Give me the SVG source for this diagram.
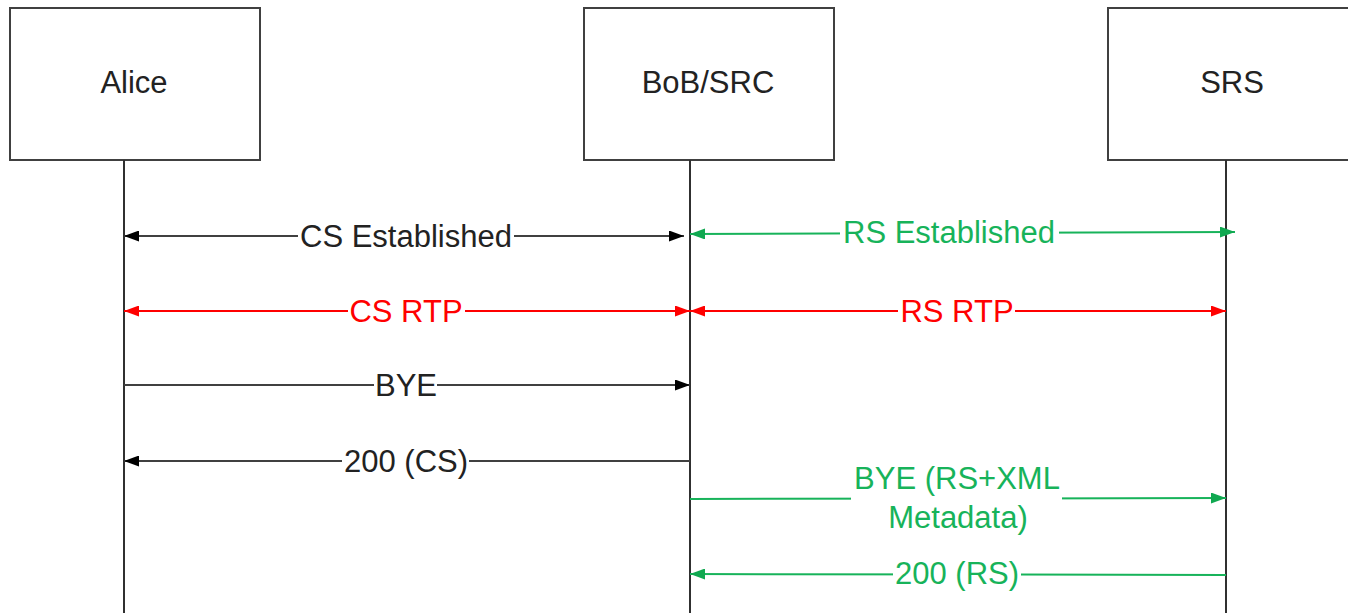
<svg xmlns="http://www.w3.org/2000/svg" width="1348" height="613" viewBox="0 0 1348 613">
<defs>
<style>
.box{fill:#fff;stroke:#404040;stroke-width:2}
.life{stroke:#303030;stroke-width:2}
.t{font-family:"Liberation Sans",Arial,sans-serif;font-size:31px;text-anchor:middle}
.k{stroke:#404040;stroke-width:2;fill:none}
.g{stroke:#17b35a;stroke-width:2;fill:none}
.r{stroke:#ff0000;stroke-width:2;fill:none}
.bg{fill:#fff}
</style>
<marker id="ak" viewBox="0 0 15 11" refX="15" refY="5.5" markerWidth="15" markerHeight="11" markerUnits="userSpaceOnUse" orient="auto-start-reverse"><path d="M0,0L15,5.5L0,11z" fill="#000"/></marker>
<marker id="ag" viewBox="0 0 15 11" refX="15" refY="5.5" markerWidth="15" markerHeight="11" markerUnits="userSpaceOnUse" orient="auto-start-reverse"><path d="M0,0L15,5.5L0,11z" fill="#10a850"/></marker>
<marker id="ar" viewBox="0 0 15 11" refX="15" refY="5.5" markerWidth="15" markerHeight="11" markerUnits="userSpaceOnUse" orient="auto-start-reverse"><path d="M0,0L15,5.5L0,11z" fill="#ff0000"/></marker>
</defs>
<rect width="1348" height="613" fill="#fff"/>
<g id="alice">
<rect class="box" x="10" y="8" width="250" height="152"/>
<line class="life" x1="124" y1="160" x2="124" y2="613"/>
<text class="t" x="134" y="93" fill="#222">Alice</text>
</g>
<g id="bob">
<rect class="box" x="584" y="8" width="250" height="152"/>
<line class="life" x1="690" y1="160" x2="690" y2="613"/>
<text class="t" x="708" y="93" fill="#222">BoB/SRC</text>
</g>
<g id="srs">
<rect class="box" x="1108" y="8" width="250" height="152"/>
<line class="life" x1="1226" y1="160" x2="1226" y2="613"/>
<text class="t" x="1232" y="93" fill="#222">SRS</text>
</g>
<g id="connectors">
<g id="cs-est">
<line class="k" x1="684" y1="236" x2="124" y2="236" marker-start="url(#ak)" marker-end="url(#ak)"/>
<rect class="bg" x="298" y="220" width="216" height="32"/>
<text class="t" x="406" y="247" fill="#222">CS Established</text>
</g>
<g id="rs-est">
<line class="g" x1="690" y1="234" x2="1235" y2="232" marker-start="url(#ag)" marker-end="url(#ag)"/>
<rect class="bg" x="840" y="216" width="219" height="32"/>
<text class="t" x="949" y="243" fill="#17b35a">RS Established</text>
</g>
<g id="cs-rtp">
<line class="r" x1="124" y1="311" x2="690" y2="311" marker-start="url(#ar)" marker-end="url(#ar)"/>
<rect class="bg" x="348" y="295" width="117" height="32"/>
<text class="t" x="406" y="322" fill="#ff0000">CS RTP</text>
</g>
<g id="rs-rtp">
<line class="r" x1="690" y1="311" x2="1226" y2="311" marker-start="url(#ar)" marker-end="url(#ar)"/>
<rect class="bg" x="898" y="295" width="117" height="32"/>
<text class="t" x="957" y="322" fill="#ff0000">RS RTP</text>
</g>
<g id="bye-cs">
<line class="k" x1="124" y1="385" x2="690" y2="385" marker-end="url(#ak)"/>
<rect class="bg" x="374" y="369" width="63" height="32"/>
<text class="t" x="406" y="396" fill="#222">BYE</text>
</g>
<g id="ok-cs">
<line class="k" x1="690" y1="461" x2="124" y2="461" marker-end="url(#ak)"/>
<rect class="bg" x="342" y="445" width="127" height="32"/>
<text class="t" x="406" y="472" fill="#222">200 (CS)</text>
</g>
<g id="bye-rs">
<line class="g" x1="690" y1="499" x2="1226" y2="498" marker-end="url(#ag)"/>
<rect class="bg" x="851" y="462" width="211" height="72"/>
<text class="t" x="957" y="489" fill="#17b35a">BYE (RS+XML</text>
<text class="t" x="958" y="528" fill="#17b35a">Metadata)</text>
</g>
<g id="ok-rs">
<line class="g" x1="1226" y1="575" x2="690" y2="574" marker-end="url(#ag)"/>
<rect class="bg" x="893" y="557" width="128" height="32"/>
<text class="t" x="957" y="584" fill="#17b35a">200 (RS)</text>
</g>
</g>
</svg>
